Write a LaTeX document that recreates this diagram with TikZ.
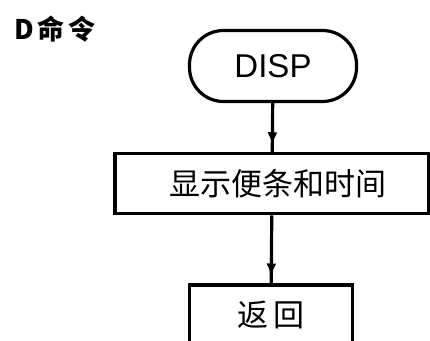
\documentclass[tikz,border=0pt]{standalone}
\usepackage{fontspec}
\setsansfont{Liberation Sans}
\newfontfamily\cjk{Noto Sans CJK SC}
\usetikzlibrary{arrows.meta,positioning,decorations.markings}

\begin{document}
\begin{tikzpicture}[x=1pt,y=-1pt,line width=3.2pt,>={Latex[length=13pt,width=10pt]},
  every node/.style={font=\cjk\fontsize{31}{31}\selectfont},
  flowbox/.style={draw,minimum height=60pt,inner sep=0pt},
  midarrow/.style={decoration={markings,mark=at position #1 with {\arrow{>}}},postaction={decorate}}]
\useasboundingbox (0,0) rectangle (430,340);
\node[anchor=west,font=\cjk\bfseries\fontsize{27}{27}\selectfont] (title) at (10,29) {D\hspace{3pt}命\hspace{4pt}令};
\node[draw,rounded corners=34pt,minimum width=167pt,minimum height=71pt,
  font=\sffamily\fontsize{33}{33}\selectfont] (disp) at (273,66) {DISP};
\node[flowbox,minimum width=314pt,below=49pt of disp,xshift=-1pt] (show) {\hspace*{12pt}显示便条和时间};
\node[flowbox,minimum width=163pt,below=68pt of show.south,anchor=north,xshift=-1pt] (ret) {返\hspace{6pt}回};
\draw[midarrow=0.86] (disp) -- (show);
\draw[midarrow=0.9] (show) -- (ret);
\end{tikzpicture}
\end{document}
